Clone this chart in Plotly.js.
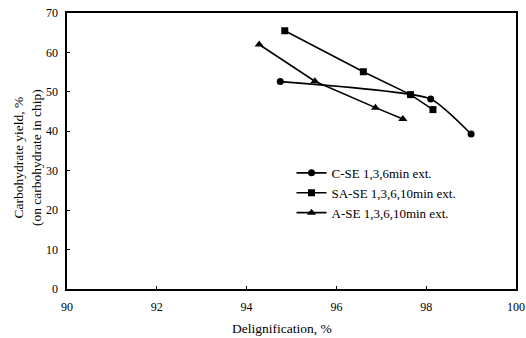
<!DOCTYPE html>
<html>
<head>
<meta charset="utf-8">
<script src="https://cdn.plot.ly/plotly-3.0.1.min.js"></script>
<style>html,body{margin:0;padding:0;background:#fff;}#chart{width:526px;height:338px;}</style>
</head>
<body>
<div id="chart"></div>
<script>
var cseX = [94.75, 98.1, 99.0];
var cseY = [52.6, 48.2, 39.3];
var saseX = [94.85, 96.6, 97.65, 98.15];
var saseY = [65.5, 55.1, 49.3, 45.5];
var aseX = [94.28, 95.52, 96.87, 97.48];
var aseY = [62.0, 52.7, 46.0, 43.1];
var names = ["C-SE 1,3,6min ext.", "SA-SE 1,3,6,10min ext.", "A-SE 1,3,6,10min ext."];
var xTitle = "Delignification, %";
var yTitle = "Carbohydrate yield, %<br>(on carbohydrate in chip)";

var fam = "Liberation Serif, Times New Roman, serif";
var traces = [
  {x: cseX, y: cseY, name: names[0], mode: "lines+markers", line: {color: "#000", width: 1.6, shape: "spline", smoothing: 0.5}, marker: {symbol: "circle", size: 7, color: "#000"}},
  {x: saseX, y: saseY, name: names[1], mode: "lines+markers", line: {color: "#000", width: 1.6}, marker: {symbol: "square", size: 7, color: "#000"}},
  {x: aseX, y: aseY, name: names[2], mode: "lines+markers", line: {color: "#000", width: 1.6}, marker: {symbol: "triangle-up", size: 8, color: "#000"}}
];
var layout = {
  width: 526, height: 338,
  margin: {l: 67, r: 10, t: 13, b: 49},
  paper_bgcolor: "#fff", plot_bgcolor: "#fff",
  font: {family: fam, color: "#000", size: 12},
  showlegend: true,
  legend: {x: 0.5, y: 0.475, xanchor: "left", yanchor: "top", bgcolor: "rgba(0,0,0,0)", font: {family: fam, size: 13, color: "#000"}, tracegroupgap: 0},
  xaxis: {
    range: [90, 100], tickvals: [90, 92, 94, 96, 98, 100], ticktext: ["90","92","94","96","98","100"],
    showgrid: false, zeroline: false, showline: true, linecolor: "#000", linewidth: 1.6, mirror: true,
    ticks: "inside", ticklen: 3, tickcolor: "#000", ticklabelstandoff: 6,
    tickfont: {family: fam, size: 12, color: "#000"}
  },
  yaxis: {
    range: [0, 70], tickvals: [0, 10, 20, 30, 40, 50, 60, 70],
    showgrid: false, zeroline: false, showline: true, linecolor: "#000", linewidth: 1.6, mirror: true,
    ticks: "inside", ticklen: 3, tickcolor: "#000", ticklabelstandoff: 5,
    tickfont: {family: fam, size: 12, color: "#000"}
  },
  annotations: [
    {text: xTitle, xref: "paper", yref: "paper", x: (282 - 67) / 449, y: (289 - 328) / 276, xanchor: "center", yanchor: "middle", showarrow: false, font: {family: fam, size: 13.5, color: "#000"}},
    {text: yTitle, xref: "paper", yref: "paper", x: (27 - 67) / 449, y: (289 - 158) / 276, xanchor: "center", yanchor: "middle", textangle: -90, showarrow: false, font: {family: fam, size: 13.5, color: "#000"}}
  ]
};
Plotly.newPlot("chart", traces, layout, {displayModeBar: false, staticPlot: true});
</script>
</body>
</html>
